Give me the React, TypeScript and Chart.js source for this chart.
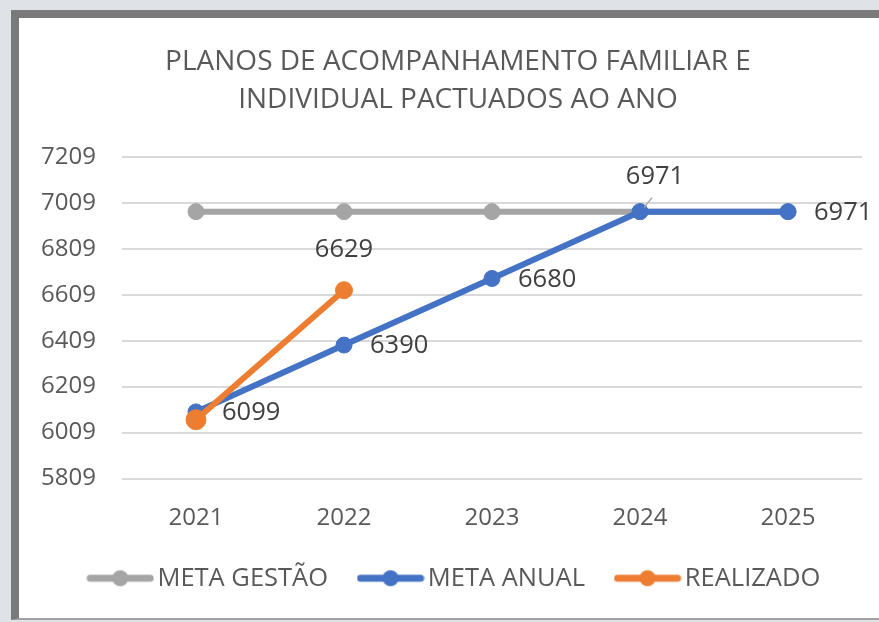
import React, { useEffect, useRef } from 'react';
import { Chart, registerables } from 'chart.js';

Chart.register(...registerables);

const categories = ['2021', '2022', '2023', '2024', '2025'];
const metaGestao = [6971, 6971, 6971, 6971, 6971];
const metaAnual = [6099, 6390, 6680, 6971, 6971];
const realizado = [6065, 6629, null, null, null];
const seriesNames = ['META GESTÃO', 'META ANUAL', 'REALIZADO'];
const seriesColors = ['#a5a5a5', '#4472c4', '#ed7d31'];
const metaGestaoLabels = ['none', 'none', 'none', 'none', 'none'];
const metaAnualLabels = ['right', 'right', 'right', 'leader', 'right'];
const realizadoLabels = ['none', 'above', 'none', 'none', 'none'];
const titleLines = ['PLANOS DE ACOMPANHAMENTO FAMILIAR E', 'INDIVIDUAL PACTUADOS AO ANO'];
const yMin = 5809;
const yMax = 7209;
const yStep = 200;

const FONT = '"Open Sans", sans-serif';
const TEXT = '#595959';
const LABEL = '#404040';

function legendImage(color: string): HTMLCanvasElement {
  const c = document.createElement('canvas');
  c.width = 68;
  c.height = 20;
  const g = c.getContext('2d')!;
  g.strokeStyle = color;
  g.lineWidth = 7;
  g.lineCap = 'round';
  g.beginPath();
  g.moveTo(4, 10);
  g.lineTo(64, 10);
  g.stroke();
  g.fillStyle = color;
  g.beginPath();
  g.arc(34, 10, 8, 0, Math.PI * 2);
  g.fill();
  return c;
}

const placements = [metaGestaoLabels, metaAnualLabels, realizadoLabels];

const valueLabels = {
  id: 'valueLabels',
  afterDatasetsDraw(chart: any) {
    const ctx = chart.ctx;
    ctx.save();
    ctx.font = `25.5px ${FONT}`;
    ctx.fillStyle = LABEL;
    placements.forEach((pl, di) => {
      const meta = chart.getDatasetMeta(di);
      const data = chart.data.datasets[di].data;
      pl.forEach((p: string, i: number) => {
        const v = data[i];
        if (p === 'none' || v == null) return;
        const pt = meta.data[i];
        const text = String(v);
        if (p === 'right') {
          ctx.textAlign = 'left';
          ctx.textBaseline = 'middle';
          ctx.fillText(text, pt.x + 26, pt.y + 1);
        } else if (p === 'above') {
          ctx.textAlign = 'center';
          ctx.textBaseline = 'middle';
          ctx.fillText(text, pt.x, pt.y - 40);
        } else if (p === 'leader') {
          ctx.textAlign = 'center';
          ctx.textBaseline = 'middle';
          ctx.fillText(text, pt.x + 15, pt.y - 35);
          ctx.strokeStyle = '#a6a6a6';
          ctx.lineWidth = 1.5;
          ctx.beginPath();
          ctx.moveTo(pt.x + 12, pt.y - 14);
          ctx.lineTo(pt.x + 4, pt.y - 4);
          ctx.stroke();
        }
      });
    });
    ctx.restore();
  },
};

export default function App() {
  const ref = useRef<HTMLCanvasElement>(null);

  useEffect(() => {
    const values = [metaGestao, metaAnual, realizado];
    const images = seriesColors.map(legendImage);
    const chart = new Chart(ref.current!, {
      type: 'line',
      data: {
        labels: categories,
        datasets: seriesNames.map((name, i) => ({
          label: name,
          data: values[i],
          yAxisID: 'y',
          borderColor: seriesColors[i],
          backgroundColor: seriesColors[i],
          pointBackgroundColor: seriesColors[i],
          pointBorderColor: seriesColors[i],
          pointBorderWidth: 1,
          pointRadius: i === 2 ? [10, 8.5, 8, 8, 8] : 8,
          borderWidth: 6,
          borderCapStyle: 'round',
          borderJoinStyle: 'round',
          order: 3 - i,
          spanGaps: false,
        })),
      },
      options: {
        animation: false,
        responsive: false,
        layout: { padding: { left: 18, right: 0, top: 0, bottom: 17 } },
        plugins: {
          title: {
            display: true,
            text: titleLines,
            color: TEXT,
            font: { family: FONT, size: 28, weight: 'normal', lineHeight: 38 / 28 },
            padding: { top: 24, bottom: 38 },
          },
          legend: {
            position: 'bottom',
            labels: {
              usePointStyle: true,
              pointStyleWidth: 49,
              padding: 38,
              color: TEXT,
              font: { family: FONT, size: 25.5 },
              sort: (a: any, b: any) => a.datasetIndex - b.datasetIndex,
              generateLabels: (c: any) => {
                const items = Chart.defaults.plugins.legend.labels.generateLabels(c);
                return items.map((it: any) => ({ ...it, pointStyle: images[it.datasetIndex] }));
              },
            },
          },
          tooltip: { enabled: false },
        },
        scales: {
          x: {
            type: 'category',
            offset: true,
            grid: { display: false, drawTicks: false },
            border: { display: false },
            ticks: { color: TEXT, font: { family: FONT, size: 24 }, padding: 25, maxRotation: 0 },
            afterFit: (s: any) => { s.height = 49; },
          },
          y: {
            position: 'left',
            min: yMin,
            max: yMax,
            ticks: {
              stepSize: yStep,
              color: TEXT,
              font: { family: FONT, size: 24 },
              padding: 26,
              callback: (v: any) => String(v),
            },
            grid: { color: '#d9d9d9', lineWidth: 2, drawTicks: false },
            border: { display: false },
            afterFit: (s: any) => { s.width = 85; },
          },
          yRight: {
            position: 'right',
            display: true,
            grid: { display: false, drawTicks: false },
            border: { display: false },
            ticks: { display: false },
            afterFit: (s: any) => { s.width = 17; },
          },
        },
      },
      plugins: [valueLabels],
    } as any);
    return () => chart.destroy();
  }, []);

  return (
    <div style={{ position: 'fixed', left: 0, top: 0, width: 879, height: 622, background: '#dfe2e6', overflow: 'hidden' }}>
      <div
        style={{
          position: 'absolute',
          left: 11,
          top: 10,
          width: 900,
          height: 600,
          borderTop: '8px solid #7a7a7a',
          borderLeft: '8px solid #7a7a7a',
          borderBottom: '2px solid #a0a0a0',
          background: '#ffffff',
        }}
      />
      <canvas ref={ref} width={860} height={599} style={{ position: 'absolute', left: 19, top: 19, width: 860, height: 599 }} />
    </div>
  );
}
